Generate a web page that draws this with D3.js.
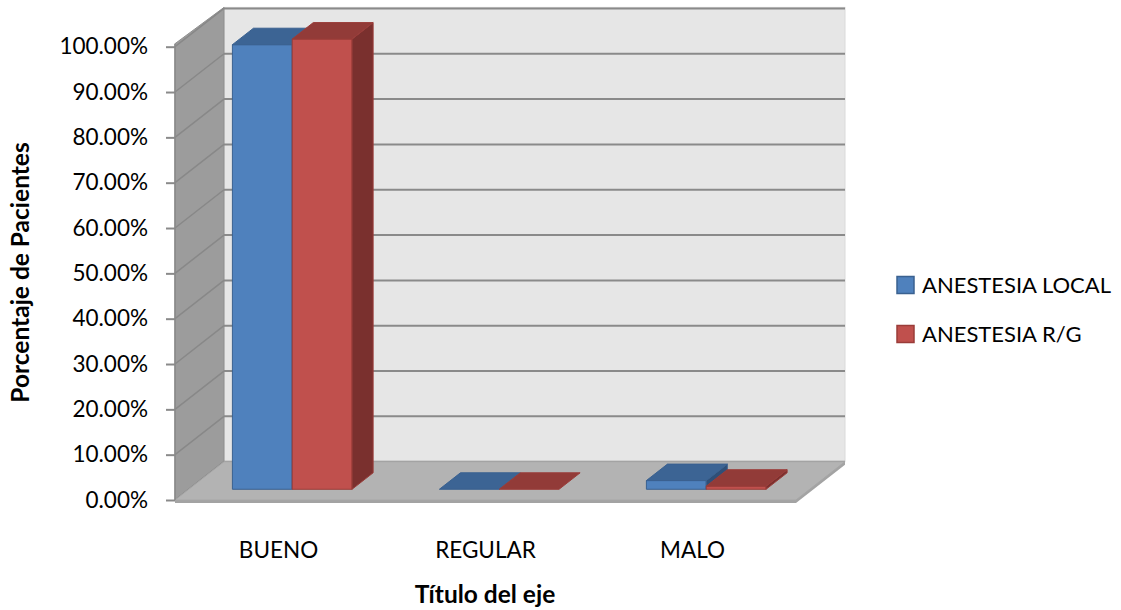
<!DOCTYPE html>
<html>
<head>
<meta charset="utf-8">
<script src="https://cdn.jsdelivr.net/npm/d3@7"></script>
<style>
  body { margin: 0; background: #fff; }
  svg { display: block; font-family: Lato, "Open Sans", sans-serif; }
</style>
</head>
<body>
<svg id="chart" width="1121" height="610"></svg>
<script>
// Chart data
const categories = ["BUENO", "REGULAR", "MALO"];
const seriesNames = ["ANESTESIA LOCAL", "ANESTESIA R/G"];
const localValues = [98.08, 0, 1.92];
const rgValues = [99.32, 0, 0.68];
const yTicks = [0, 10, 20, 30, 40, 50, 60, 70, 80, 90, 100];
const yTitle = "Porcentaje de Pacientes";
const xTitle = "Título del eje";

const seriesValues = [localValues, rgValues];
const palette = [
  { front: "#4f81bd", top: "#3c6494", side: "#2f4f77", stroke: "#3a6190" },
  { front: "#c0504d", top: "#923b38", side: "#7a302e", stroke: "#9a3c39" }
];

const svg = d3.select("#chart");

// Front-plane scales; depth is drawn with an oblique offset
const x = d3.scaleBand().domain(categories).range([175, 796]);
const xs = d3.scaleBand().domain(seriesNames)
  .range([0, x.bandwidth()]).paddingInner(0).paddingOuter(0.73);
const y = d3.scaleLinear().domain([0, 100]).range([500, 46.7]);
const DX = 49, DY = 38.3;
const proj = (px, py, z) => [px + z * DX, py - z * DY];
const poly = pts => pts.map(p => p.join(",")).join(" ");

const x0 = x.range()[0], x1 = x.range()[1];
const yBase = y(0), yTop = y(100);

// Back wall
const bw0 = proj(x0, yTop, 1), bw1 = proj(x1, yBase, 1);
svg.append("rect")
  .attr("x", bw0[0]).attr("y", bw0[1] - 1)
  .attr("width", bw1[0] - bw0[0]).attr("height", bw1[1] - bw0[1] + 1)
  .attr("fill", "#e6e6e6").attr("stroke", "#dadada").attr("stroke-width", 1);

// Side wall
svg.append("polygon")
  .attr("points", poly([proj(x0, yBase, 0), proj(x0, yTop - 3, 0), proj(x0, yTop - 1, 1), proj(x0, yBase, 1)]))
  .attr("fill", "#9c9c9c").attr("stroke", "#8e8e8e").attr("stroke-width", 1);

// Gridlines on back and side walls
svg.append("g").selectAll("line.back").data(yTicks).join("line")
  .attr("x1", d => proj(x0, y(d), 1)[0]).attr("y1", d => proj(x0, y(d), 1)[1])
  .attr("x2", d => proj(x1, y(d), 1)[0]).attr("y2", d => proj(x1, y(d), 1)[1])
  .attr("stroke", "#8a8a8a").attr("stroke-width", 2);
svg.append("g").selectAll("line.side").data(yTicks).join("line")
  .attr("x1", d => proj(x0, y(d), 0)[0]).attr("y1", d => proj(x0, y(d), 0)[1])
  .attr("x2", d => proj(x0, y(d), 1)[0]).attr("y2", d => proj(x0, y(d), 1)[1])
  .attr("stroke", "#888888").attr("stroke-width", 1.5);

// Floor slab
svg.append("polygon")
  .attr("points", poly([proj(x0, yBase + 3, 0), proj(x1, yBase + 3, 0), proj(x1, yBase + 3, 1), proj(x1, yBase, 1), proj(x0, yBase, 1), proj(x0, yBase, 0)]))
  .attr("fill", "#a3a3a3");
svg.append("polygon")
  .attr("points", poly([proj(x0, yBase, 0), proj(x1, yBase, 0), proj(x1, yBase, 1), proj(x0, yBase, 1)]))
  .attr("fill", "#b3b3b3").attr("stroke", "#a6a6a6").attr("stroke-width", 1);

// Columns
const zFront = 0.28, zBack = 0.71;
const bars = svg.append("g");
categories.forEach((cat, ci) => {
  seriesNames.forEach((s, si) => {
    const v = seriesValues[si][ci];
    const c = palette[si];
    const bx0 = x(cat) + xs(s), bx1 = bx0 + xs.bandwidth();
    const yv = y(v);
    const g = bars.append("g").attr("stroke", c.stroke).attr("stroke-width", 1).attr("stroke-linejoin", "round");
    if (v > 0) {
      g.append("polygon").attr("fill", c.front)
        .attr("points", poly([proj(bx0, yv, zFront), proj(bx1, yv, zFront), proj(bx1, yBase, zFront), proj(bx0, yBase, zFront)]));
      g.append("polygon").attr("fill", c.side)
        .attr("points", poly([proj(bx1, yv, zFront), proj(bx1, yBase, zFront), proj(bx1, yBase, zBack), proj(bx1, yv, zBack)]));
    }
    g.append("polygon").attr("fill", c.top)
      .attr("points", poly([proj(bx0, yv, zFront), proj(bx1, yv, zFront), proj(bx1, yv, zBack), proj(bx0, yv, zBack)]));
  });
});

// Value axis
const yAxis = svg.append("g")
  .attr("transform", `translate(${x0},0)`)
  .call(d3.axisLeft(y).tickValues(yTicks).tickSize(9).tickPadding(18)
    .tickFormat(d => d3.format(".2f")(d) + "%"));
yAxis.select(".domain").attr("stroke", "#8a8a8a").attr("stroke-width", 1.5)
  .attr("d", `M0,${yBase}V${yTop - 3}`);
yAxis.selectAll(".tick line").attr("stroke", "#8a8a8a").attr("stroke-width", 2);
yAxis.selectAll(".tick text").attr("fill", "#000").attr("font-size", 22.5)
  .attr("font-family", "Lato, 'Open Sans', sans-serif");

// Category labels
svg.append("g").selectAll("text").data(categories).join("text")
  .attr("x", d => x(d) + x.bandwidth() / 2).attr("y", 558)
  .attr("text-anchor", "middle").attr("font-size", 22.5).attr("fill", "#000")
  .text(d => d);

// Axis titles
svg.append("text")
  .attr("transform", "translate(29,272.5) rotate(-90)")
  .attr("text-anchor", "middle").attr("font-size", 24.5).attr("font-weight", "bold")
  .attr("fill", "#000").text(yTitle);
svg.append("text")
  .attr("x", 485).attr("y", 603).attr("text-anchor", "middle")
  .attr("font-size", 24.5).attr("font-weight", "bold").attr("fill", "#000").text(xTitle);

// Legend
const legend = svg.append("g").selectAll("g").data(seriesNames).join("g")
  .attr("transform", (d, i) => `translate(897,${285 + i * 49})`);
legend.append("rect")
  .attr("x", 0).attr("y", -8.5).attr("width", 17).attr("height", 17)
  .attr("fill", (d, i) => palette[i].front).attr("stroke", (d, i) => palette[i].stroke).attr("stroke-width", 1.5);
legend.append("text")
  .attr("x", 25).attr("y", 0).attr("dy", "0.35em")
  .attr("font-size", 22).attr("fill", "#000").text(d => d);
</script>
</body>
</html>
